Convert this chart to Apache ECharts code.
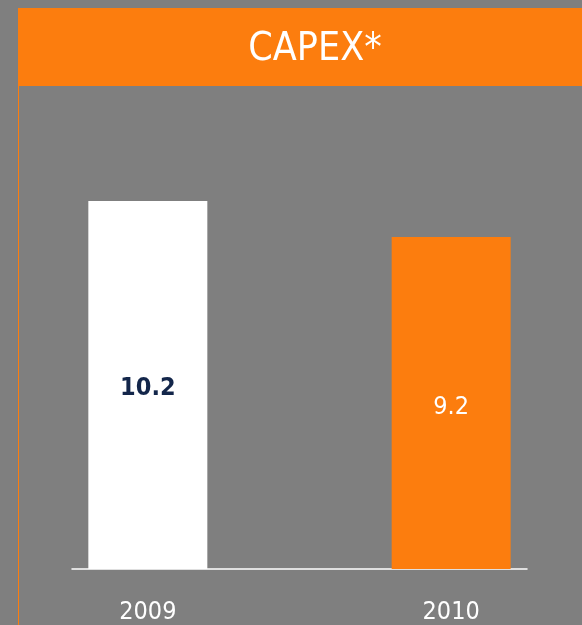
<!DOCTYPE html>
<html>
<head>
<meta charset="utf-8">
<script src="https://cdn.jsdelivr.net/npm/echarts@6/dist/echarts.min.js"></script>
<style>
html,body{margin:0;padding:0;background:#7f7f7f;}
#main{width:582px;height:625px;}
</style>
</head>
<body>
<div id="main"></div>
<script>
var titleText = 'CAPEX*';
var categories = ['2009', '', '2010'];
var values = [10.2, '-', 9.2];
var barColors = ['#ffffff', '#ffffff', '#fc7d0e'];
var labelColors = ['#13264a', '#13264a', '#ffffff'];
var labelWeights = ['bold', 'bold', 'normal'];

var FONT = "'Liberation Sans Narrow', 'DejaVu Sans Condensed', sans-serif";
var ORANGE = '#fc7d0e';

var chart = echarts.init(document.getElementById('main'), null, {renderer: 'canvas'});

var seriesData = values.map(function (v, i) {
  return {
    value: v,
    itemStyle: {color: barColors[i]},
    label: {color: labelColors[i], fontWeight: labelWeights[i]}
  };
});

chart.setOption({
  backgroundColor: '#7f7f7f',
  animation: false,
  graphic: [
    {type: 'rect', shape: {x: 18, y: 8, width: 564, height: 78}, style: {fill: ORANGE}, z: 0},
    {type: 'rect', shape: {x: 18, y: 86, width: 1, height: 539}, style: {fill: ORANGE}, z: 0}
  ],
  title: {
    text: titleText,
    left: 310,
    top: 25,
    textAlign: 'center',
    textStyle: {color: '#ffffff', fontFamily: FONT, fontSize: 39, fontWeight: 'normal'},
    z: 10
  },
  grid: {left: 72, right: 55, top: 136, bottom: 56},
  xAxis: {
    type: 'category',
    data: categories,
    axisLine: {lineStyle: {color: '#ffffff', width: 1.5}},
    axisTick: {show: false},
    axisLabel: {color: '#ffffff', fontFamily: FONT, fontSize: 25, margin: 31, interval: 0}
  },
  yAxis: {
    type: 'value',
    min: 0,
    max: 12,
    show: false,
    splitLine: {show: false}
  },
  series: [{
    type: 'bar',
    data: seriesData,
    barWidth: 119,
    label: {
      show: true,
      position: 'inside',
      offset: [0, 4],
      fontFamily: FONT,
      fontSize: 25
    }
  }]
});
</script>
</body>
</html>
